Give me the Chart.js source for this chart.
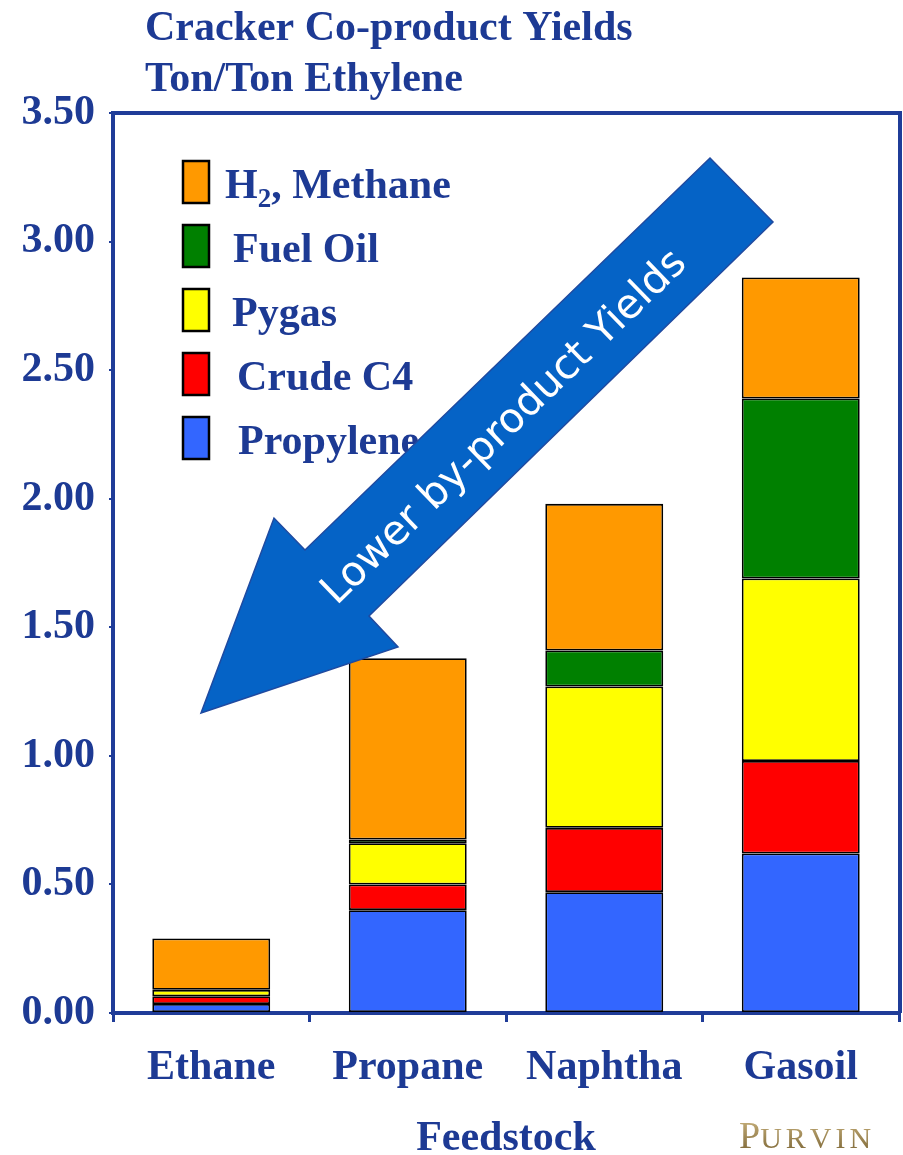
<!DOCTYPE html>
<html>
<head>
<meta charset="utf-8">
<title>Cracker Co-product Yields</title>
<script src="https://cdn.jsdelivr.net/npm/chart.js@4.4.1/dist/chart.umd.min.js"></script>
<style>
  html, body { margin: 0; padding: 0; background: #ffffff; }
  #wrap { width: 903px; height: 1155px; position: relative; overflow: hidden; }
</style>
</head>
<body>
<div id="wrap"><canvas id="chart" width="903" height="1155"></canvas></div>
<script>
// Feedstocks on the x axis
const feedstocks = ['Ethane', 'Propane', 'Naphtha', 'Gasoil'];

// Co-product yields, ton per ton of ethylene (stacked bottom to top)
const propylene = [0.035, 0.40, 0.47, 0.62];
const crudeC4   = [0.03, 0.10, 0.25, 0.36];
const pygas     = [0.025, 0.16, 0.55, 0.71];
const fuelOil   = [null, 0.015, 0.14, 0.70];
const h2Methane = [0.20, 0.705, 0.57, 0.47];

// Value axis ticks
const yTicks = [0, 0.5, 1.0, 1.5, 2.0, 2.5, 3.0, 3.5];

// Text
const titleLines = ['Cracker Co-product Yields', 'Ton/Ton Ethylene'];
const xAxisTitle = 'Feedstock';
const arrowText = 'Lower by-product Yields';
const logoText = 'PURVIN';

const NAVY = '#1d3a94';
const FRAME = '#1f3c98';
const SERIF = '"Liberation Serif", "Times New Roman", serif';

const COLORS = {
  h2: '#FF9900',
  fuel: '#008000',
  pygas: '#FFFF00',
  c4: '#FF0000',
  propylene: '#3366FF'
};

function seg(label, data, color) {
  return {
    label, data,
    backgroundColor: color,
    borderColor: '#000000',
    borderWidth: 1.8,
    borderSkipped: false,
    barPercentage: 0.6,
    categoryPercentage: 1.0
  };
}

// Legend rows, top to bottom, as they appear in the key
const legendRows = [
  { key: 'h2',        main: 'H', sub: '2', rest: ', Methane', x: 225 },
  { key: 'fuel',      main: 'Fuel Oil',   x: 233 },
  { key: 'pygas',     main: 'Pygas',      x: 232 },
  { key: 'c4',        main: 'Crude C4',   x: 237 },
  { key: 'propylene', main: 'Propylene',  x: 238 }
];

const decorations = {
  id: 'decorations',
  afterDraw(chart) {
    const ctx = chart.ctx;
    const a = chart.chartArea;
    ctx.save();

    // Frame: top and right edges of the plot box
    ctx.strokeStyle = FRAME;
    ctx.lineWidth = 4;
    ctx.beginPath();
    ctx.moveTo(a.left - 2, a.top);
    ctx.lineTo(a.right + 1, a.top);
    ctx.moveTo(a.right + 1, a.top - 2);
    ctx.lineTo(a.right + 1, a.bottom);
    ctx.stroke();

    // Title
    ctx.fillStyle = NAVY;
    ctx.textAlign = 'left';
    ctx.textBaseline = 'alphabetic';
    ctx.font = 'bold 42px ' + SERIF;
    ctx.fillText(titleLines[0], 145, 40);
    ctx.fillText(titleLines[1], 145, 91);

    // Key
    legendRows.forEach((row, i) => {
      const top = 161 + i * 64;
      const base = 198 + i * 64;
      ctx.fillStyle = COLORS[row.key];
      ctx.fillRect(183, top, 26, 42);
      ctx.strokeStyle = '#000000';
      ctx.lineWidth = 2.5;
      ctx.strokeRect(183, top, 26, 42);

      ctx.fillStyle = NAVY;
      ctx.font = 'bold 42px ' + SERIF;
      let x = row.x;
      ctx.fillText(row.main, x, base);
      x += ctx.measureText(row.main).width;
      if (row.sub) {
        ctx.font = 'bold 27px ' + SERIF;
        ctx.fillText(row.sub, x, base + 9);
        x += ctx.measureText(row.sub).width;
        ctx.font = 'bold 42px ' + SERIF;
        ctx.fillText(row.rest, x, base);
      }
    });

    // Big arrow pointing down-left
    const pts = [[710, 158], [773, 222], [369, 616], [398, 647], [201, 713], [274, 518], [305, 550]];
    ctx.beginPath();
    ctx.moveTo(pts[0][0], pts[0][1]);
    for (let i = 1; i < pts.length; i++) ctx.lineTo(pts[i][0], pts[i][1]);
    ctx.closePath();
    ctx.fillStyle = '#0563C6';
    ctx.fill();
    ctx.strokeStyle = '#1f4aa0';
    ctx.lineWidth = 1.5;
    ctx.stroke();

    ctx.save();
    ctx.translate(505, 428);
    ctx.rotate(-44.1 * Math.PI / 180);
    ctx.fillStyle = '#ffffff';
    ctx.font = '41px "DejaVu Sans", sans-serif';
    ctx.textAlign = 'center';
    ctx.textBaseline = 'middle';
    ctx.fillText(arrowText, 0, 0);
    ctx.restore();

    // Logo
    const grad = ctx.createLinearGradient(0, 1120, 0, 1149);
    grad.addColorStop(0, '#c4ad78');
    grad.addColorStop(1, '#86703f');
    ctx.fillStyle = grad;
    ctx.textAlign = 'left';
    ctx.textBaseline = 'alphabetic';
    ctx.font = '38px ' + SERIF;
    ctx.fillText(logoText[0], 739, 1148);
    let lx = 739 + ctx.measureText(logoText[0]).width;
    ctx.font = '30px ' + SERIF;
    for (const ch of logoText.slice(1)) {
      ctx.fillText(ch, lx, 1148);
      lx += ctx.measureText(ch).width + 4;
    }

    ctx.restore();
  }
};

new Chart(document.getElementById('chart'), {
  type: 'bar',
  data: {
    labels: feedstocks,
    datasets: [
      seg('Propylene', propylene, COLORS.propylene),
      seg('Crude C4', crudeC4, COLORS.c4),
      seg('Pygas', pygas, COLORS.pygas),
      seg('Fuel Oil', fuelOil, COLORS.fuel),
      seg('H2, Methane', h2Methane, COLORS.h2)
    ]
  },
  options: {
    responsive: false,
    animation: false,
    devicePixelRatio: 1,
    layout: { padding: { top: 113, right: 4, left: 0, bottom: 0 } },
    plugins: {
      legend: { display: false },
      tooltip: { enabled: false },
      title: { display: false }
    },
    scales: {
      x: {
        stacked: true,
        grid: {
          offset: true,
          drawOnChartArea: false,
          drawTicks: true,
          tickLength: 9,
          color: FRAME,
          lineWidth: 3
        },
        border: { display: true, color: FRAME, width: 4 },
        ticks: {
          color: NAVY,
          font: { family: SERIF, size: 42, weight: 'bold' },
          padding: 21,
          maxRotation: 0,
          autoSkip: false
        },
        title: {
          display: true,
          text: xAxisTitle,
          color: NAVY,
          font: { family: SERIF, size: 42, weight: 'bold', lineHeight: 0.75 },
          padding: { top: 0, bottom: 0 }
        },
        afterFit(scale) { scale.height = 142; }
      },
      y: {
        stacked: true,
        min: 0,
        max: 3.5,
        afterBuildTicks(scale) { scale.ticks = yTicks.map(v => ({ value: v })); },
        grid: {
          drawOnChartArea: false,
          drawTicks: true,
          tickLength: 4,
          color: FRAME,
          lineWidth: 2
        },
        border: { display: true, color: FRAME, width: 4 },
        ticks: {
          color: NAVY,
          font: { family: SERIF, size: 42, weight: 'bold' },
          padding: 14,
          callback: v => Number(v).toFixed(2)
        },
        afterFit(scale) { scale.width = 113; }
      }
    }
  },
  plugins: [decorations]
});
</script>
</body>
</html>
